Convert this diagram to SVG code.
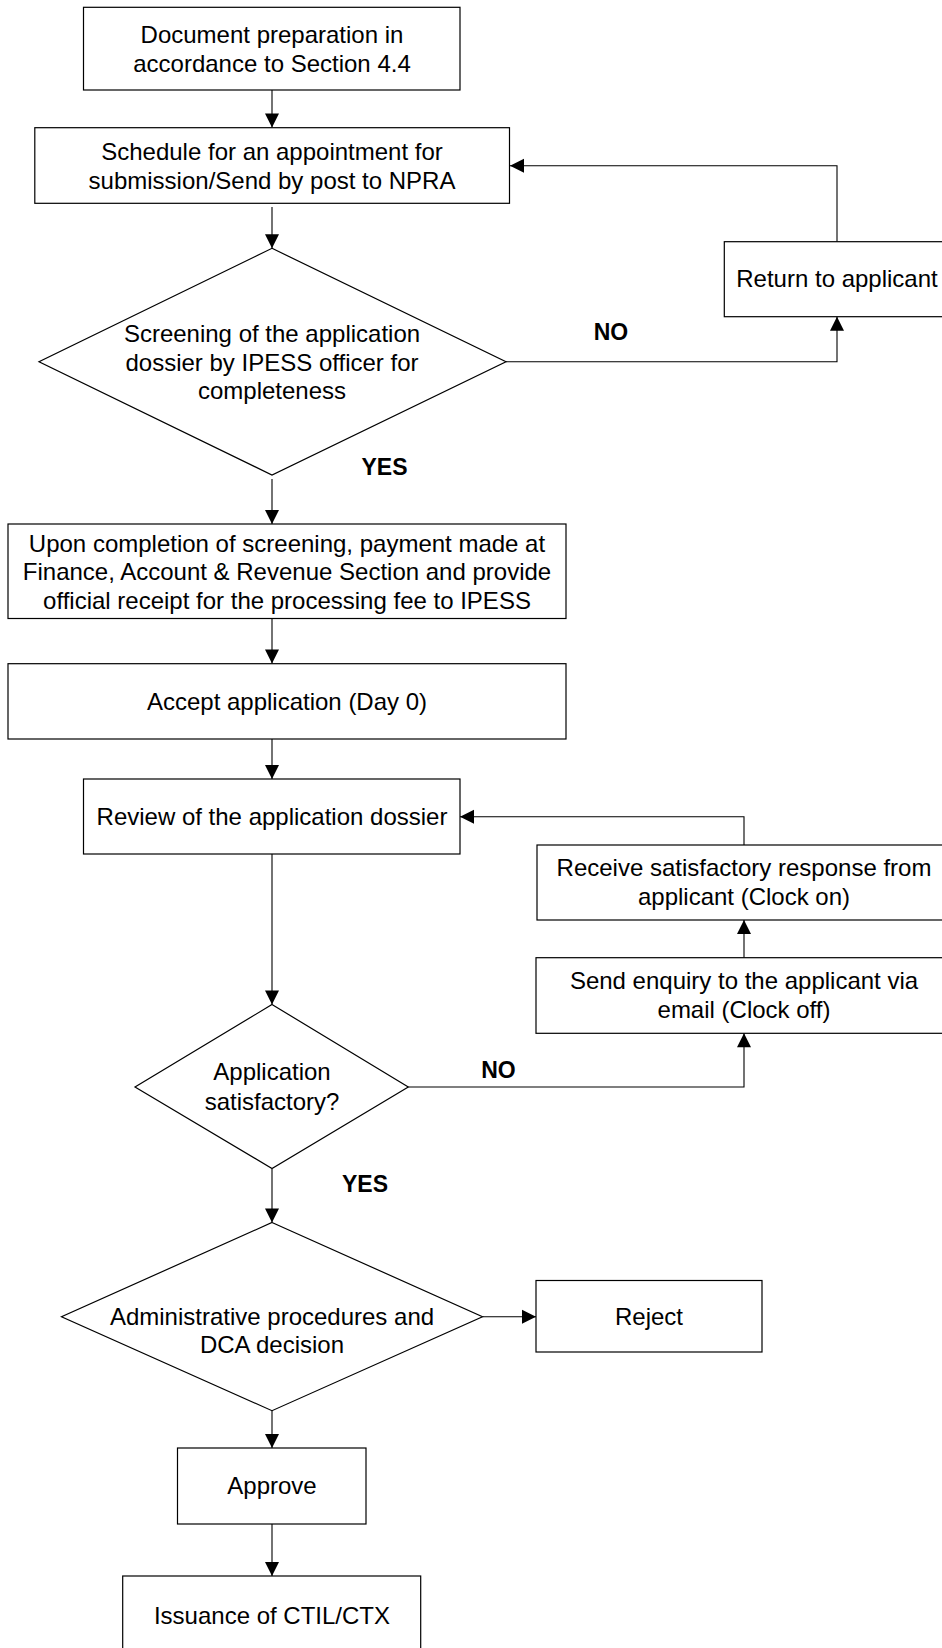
<svg xmlns="http://www.w3.org/2000/svg" width="942" height="1648" viewBox="0 0 942 1648">
<style>
.shape{fill:#fff;stroke:#000;stroke-width:1.2}
.t{font-family:"Liberation Sans",Arial,sans-serif;font-size:24px;fill:#000;text-anchor:middle}
.lbl{font-family:"Liberation Sans",Arial,sans-serif;font-size:23px;font-weight:bold;fill:#000;text-anchor:middle}
.c{fill:none;stroke:#000;stroke-width:1.1}
</style>
<defs>
<marker id="ah" markerUnits="userSpaceOnUse" markerWidth="16" markerHeight="16" viewBox="0 -8 15 16" refX="14" refY="0" orient="auto">
<path d="M0,-7 L14,0 L0,7 z" fill="#000"/>
</marker>
</defs>
<rect width="942" height="1648" fill="#fff"/>
<g id="connectors">
<path class="c" d="M272,90 V127.5" marker-end="url(#ah)"/>
<path class="c" d="M272,207 V248.3" marker-end="url(#ah)"/>
<path class="c" d="M506,361.7 H837 V316.7" marker-end="url(#ah)"/>
<path class="c" d="M837,241.7 V165.7 H510" marker-end="url(#ah)"/>
<path class="c" d="M272,479 V524" marker-end="url(#ah)"/>
<path class="c" d="M272,618.5 V663.5" marker-end="url(#ah)"/>
<path class="c" d="M272,739 V779" marker-end="url(#ah)"/>
<path class="c" d="M272,854 V1004.5" marker-end="url(#ah)"/>
<path class="c" d="M744,845 V816.7 H460" marker-end="url(#ah)"/>
<path class="c" d="M744,957.7 V920" marker-end="url(#ah)"/>
<path class="c" d="M408.3,1087 H744 V1033.3" marker-end="url(#ah)"/>
<path class="c" d="M272,1169 V1222.5" marker-end="url(#ah)"/>
<path class="c" d="M482.5,1316.7 H536" marker-end="url(#ah)"/>
<path class="c" d="M272,1410.7 V1448" marker-end="url(#ah)"/>
<path class="c" d="M272,1524 V1576" marker-end="url(#ah)"/>
<text class="lbl" x="611" y="340">NO</text>
<text class="lbl" x="384.5" y="475">YES</text>
<text class="lbl" x="498.5" y="1078">NO</text>
<text class="lbl" x="365" y="1192">YES</text>
</g>
<g id="n1">
<rect class="shape" x="83.5" y="7.3" width="376.5" height="82.7"/>
<text class="t" x="272" y="43">Document preparation in</text>
<text class="t" x="272" y="71.5">accordance to Section 4.4</text>
</g>
<g id="n2">
<rect class="shape" x="34.8" y="127.7" width="474.7" height="75.6"/>
<text class="t" x="272" y="160">Schedule for an appointment for</text>
<text class="t" x="272" y="188.5">submission/Send by post to NPRA</text>
</g>
<g id="n3">
<polygon class="shape" points="272,248.3 506,361.7 272,475 39,361.7"/>
<text class="t" x="272" y="342">Screening of the application</text>
<text class="t" x="272" y="370.5">dossier by IPESS officer for</text>
<text class="t" x="272" y="399">completeness</text>
</g>
<g id="n4">
<rect class="shape" x="724.3" y="241.7" width="226" height="75"/>
<text class="t" x="837" y="287">Return to applicant</text>
</g>
<g id="n5">
<rect class="shape" x="8" y="524" width="558" height="94.5"/>
<text class="t" x="287" y="551.5">Upon completion of screening, payment made at</text>
<text class="t" x="287" y="580">Finance, Account &amp; Revenue Section and provide</text>
<text class="t" x="287" y="608.5">official receipt for the processing fee to IPESS</text>
</g>
<g id="n6">
<rect class="shape" x="8" y="663.7" width="558" height="75.3"/>
<text class="t" x="287" y="709.5">Accept application (Day 0)</text>
</g>
<g id="n7">
<rect class="shape" x="83.5" y="779" width="376.5" height="75"/>
<text class="t" x="272" y="824.5">Review of the application dossier</text>
</g>
<g id="n8">
<rect class="shape" x="537" y="845" width="414" height="75"/>
<text class="t" x="744" y="876">Receive satisfactory response from</text>
<text class="t" x="744" y="904.5">applicant (Clock on)</text>
</g>
<g id="n9">
<rect class="shape" x="536" y="957.7" width="415" height="75.6"/>
<text class="t" x="744" y="989">Send enquiry to the applicant via</text>
<text class="t" x="744" y="1017.5">email (Clock off)</text>
</g>
<g id="n10">
<polygon class="shape" points="272,1004.5 408.3,1087 272,1168.5 135,1087"/>
<text class="t" x="272" y="1080">Application</text>
<text class="t" x="272" y="1109.5">satisfactory?</text>
</g>
<g id="n11">
<polygon class="shape" points="272,1222.5 482.5,1316.7 272,1410.7 61.5,1316.7"/>
<text class="t" x="272" y="1325">Administrative procedures and</text>
<text class="t" x="272" y="1352.5">DCA decision</text>
</g>
<g id="n12">
<rect class="shape" x="536" y="1280.5" width="226" height="71.5"/>
<text class="t" x="649" y="1325">Reject</text>
</g>
<g id="n13">
<rect class="shape" x="177.5" y="1448" width="188.5" height="76"/>
<text class="t" x="272" y="1493.5">Approve</text>
</g>
<g id="n14">
<rect class="shape" x="122.7" y="1576" width="298" height="80"/>
<text class="t" x="272" y="1623.5">Issuance of CTIL/CTX</text>
</g>
</svg>
